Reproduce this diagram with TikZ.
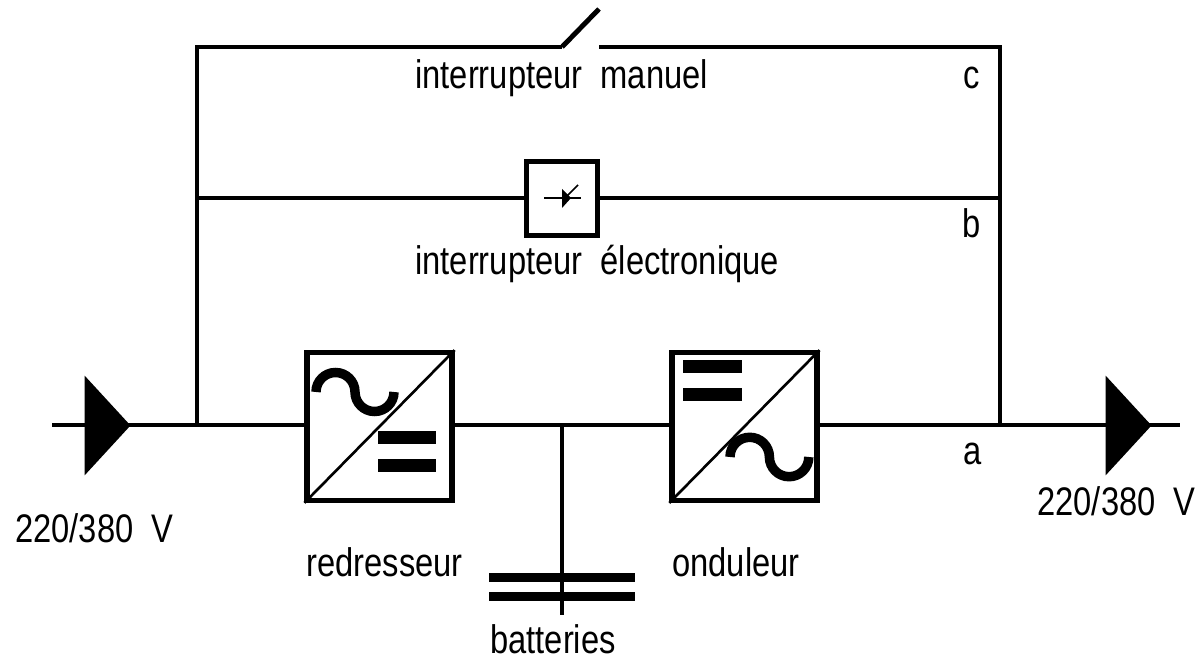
\documentclass[tikz,border=0pt]{standalone}
\usepackage{fontspec}
\setmainfont[FakeStretch=0.82]{Liberation Sans}
\usetikzlibrary{shapes.geometric, positioning}

\begin{document}
\begin{tikzpicture}[x=0.02cm, y=-0.02cm,
			wire/.style={line width=2.8pt, black},
			conv/.style={draw, line width=3pt, fill=white, rectangle, minimum width=2.9cm, minimum height=2.95cm, inner sep=0pt},
			elec/.style={draw, line width=3pt, fill=white, rectangle, minimum width=1.42cm, minimum height=1.48cm, inner sep=0pt},
			flow/.style={fill=black, isosceles triangle, isosceles triangle apex angle=92, isosceles triangle stretches, minimum width=2cm, minimum height=0.92cm, inner sep=0pt, outer sep=0pt},
			plate/.style={fill=black, rectangle, minimum width=2.92cm, minimum height=0.18cm, inner sep=0pt, outer sep=0pt},
			bar/.style={fill=black, rectangle, minimum width=1.17cm, minimum height=0.26cm, inner sep=0pt, outer sep=0pt},
			sine/.style={line width=5.4pt, black},
			lbl/.style={font=\fontsize{22.7}{26}\selectfont, inner sep=0pt, anchor=base west}
			]
			\useasboundingbox (0,0) rectangle (1196,661);
			% ends and junctions
			\coordinate (inp) at (52,425);
			\coordinate (out) at (1180,425);
			\coordinate (jl) at (197,425);
			\coordinate (jr) at (1000,425);
			\coordinate (tl) at (197,47);
			\coordinate (tr) at (1000,47);
			\coordinate (ml) at (197,198);
			\coordinate (mr) at (1000,198);
			\coordinate (swa) at (562,47);
			\coordinate (swb) at (599,9);
			\coordinate (swc) at (599,47);
			\coordinate (tap) at (562,425);
			\coordinate (stub) at (562,615);

			\draw[wire] (inp) -- (out);
			\draw[wire] (jr) -- (tr) -- (swc);
			\draw[wire] (swa) -- (swb);
			\draw[wire] (swa) -- (tl) -- (jl);
			\draw[wire] (ml) -- (mr);
			\draw[wire] (tap) -- (stub);

			\node [flow](fl1) at (104,425.5) {};
			\node [flow](fl2) at (1125,425.5) {};

			\node [conv](red) at (379.5,426.5) {};
			\node [conv](ond) [right of=red, node distance=7.3cm] {};
			\node [elec](sta) at (562,198.5) {};
			\node [plate](pl1) at (562,577.5) {};
			\node [plate](pl2) at (562,596.5) {};

			% converter insides
			\draw[line width=1.5pt] (red.south west) -- (red.north east);
			\draw[line width=1.5pt] (ond.south west) -- (ond.north east);
			\draw[sine] (316,392) arc (180:360:19.5) arc (180:0:19.5);
			\draw[sine] (730,457) arc (180:360:19.7) arc (180:0:19.7);
			\node [bar](dc1) at (407,437.5) {};
			\node [bar](dc2) [below of=dc1, node distance=0.56cm] {};
			\node [bar](dc3) at (712.5,366.5) {};
			\node [bar](dc4) [below of=dc3, node distance=0.56cm] {};

			% static switch
			\coordinate (tha) at (544,198);
			\coordinate (thb) at (581,198);
			\coordinate (thc) at (565,198);
			\coordinate (thd) at (578,185);
			\draw[line width=0.9pt] (tha) -- (thb);
			\draw[line width=0.9pt] (thc) -- (thd);
			\fill (562,189) -- (571,198) -- (562,208) -- cycle;

			\node [lbl](lman) at (415,89) {interrupteur\ \ manuel};
			\node [lbl](lele) at (415,275) {interrupteur\ \ électronique};
			\node [lbl](lc) at (963,89) {c};
			\node [lbl](lb) at (962,238) {b};
			\node [lbl](la) at (963,465) {a};
			\node [lbl](lin) at (15,542) {220/380\ \ V};
			\node [lbl](lout) at (1037,516) {220/380\ \ V};
			\node [lbl](lred) at (306,577) {redresseur};
			\node [lbl](lond) at (672,577) {onduleur};
			\node [lbl](lbat) at (490,653) {batteries};
		\end{tikzpicture}
\end{document}
